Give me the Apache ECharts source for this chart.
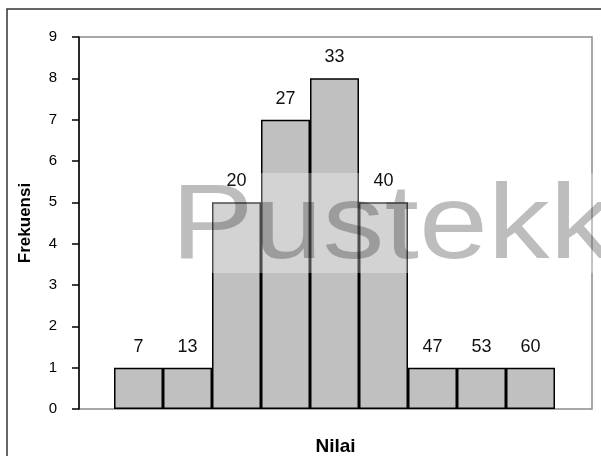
<!DOCTYPE html>
<html>
<head>
<meta charset="utf-8">
<script src="https://cdn.jsdelivr.net/npm/echarts@6/dist/echarts.min.js"></script>
<style>
html,body{margin:0;padding:0;background:#fff;}
#c{width:601px;height:456px;}
</style>
</head>
<body>
<div id="c"></div>
<script>
var categories = ['7', '13', '20', '27', '33', '40', '47', '53', '60'];
var frequencies = [1, 1, 5, 7, 8, 5, 1, 1, 1];
var yTicks = [0, 1, 2, 3, 4, 5, 6, 7, 8, 9];
var xTitle = 'Nilai';
var yTitle = 'Frekuensi';
var watermark = 'Pustekk';

var chart = echarts.init(document.getElementById('c'), null, {renderer: 'canvas'});
var FONT = '"Liberation Sans", Arial, sans-serif';
chart.setOption({
  animation: false,
  backgroundColor: '#ffffff',
  grid: [
    {left: 79, right: 9, top: 37, bottom: 47, show: true, borderColor: '#8c8c8c', borderWidth: 1.5,
     backgroundColor: 'transparent', outerBoundsMode: 'none', containLabel: false},
    {left: 114, right: 46, top: 37, bottom: 47, outerBoundsMode: 'none', containLabel: false}
  ],
  xAxis: [
    {gridIndex: 0, type: 'category', data: categories, axisLine: {show: false}, axisTick: {show: false}, axisLabel: {show: false},
     name: xTitle, nameLocation: 'middle', nameGap: 28,
     nameTextStyle: {fontFamily: FONT, fontWeight: 'bold', fontSize: 19, color: '#000'}},
    {gridIndex: 1, type: 'category', data: categories, show: false}
  ],
  yAxis: [
    {gridIndex: 0, type: 'value', min: yTicks[0], max: yTicks[yTicks.length - 1], interval: 1,
     axisLine: {show: true, lineStyle: {color: '#000', width: 1.5}},
     axisTick: {show: true, inside: false, length: 7, lineStyle: {color: '#000', width: 1.5}},
     axisLabel: {show: true, margin: 22, fontFamily: FONT, fontSize: 15, color: '#000'},
     splitLine: {show: false},
     name: yTitle, nameLocation: 'middle', nameGap: 45, nameRotate: 90,
     nameTextStyle: {fontFamily: '"Liberation Sans Narrow", "Liberation Sans", Arial, sans-serif', fontWeight: 'bold', fontSize: 17, color: '#000'}},
    {gridIndex: 1, type: 'value', min: yTicks[0], max: yTicks[yTicks.length - 1], show: false}
  ],
  series: [{
    type: 'bar',
    xAxisIndex: 1,
    yAxisIndex: 1,
    z: 2,
    data: frequencies,
    barWidth: '100%',
    barCategoryGap: 0,
    itemStyle: {color: '#c0c0c0', borderColor: '#000', borderWidth: 1.5},
    label: {show: false}
  }, {
    type: 'bar',
    xAxisIndex: 1,
    yAxisIndex: 1,
    z: 4,
    data: frequencies,
    barWidth: '100%',
    barGap: '-100%',
    barCategoryGap: 0,
    itemStyle: {color: 'rgba(0,0,0,0)', borderWidth: 0},
    label: {show: true, position: 'top', distance: 12, formatter: '{b}',
            fontFamily: FONT, fontSize: 18, color: '#111'}
  }],
  graphic: [
    {type: 'rect', z: 100, silent: true, shape: {x: 7, y: 9, width: 620, height: 470},
     style: {fill: 'none', stroke: '#333', lineWidth: 1.5}},
    {type: 'rect', z: 3, silent: true, shape: {x: 172, y: 173, width: 440, height: 100},
     style: {fill: 'rgba(255,255,255,0.3)'}},
    {type: 'text', z: 102, silent: true, x: 171, y: 229, scaleX: 1.18,
     style: {text: watermark, font: '105px "Liberation Sans", Arial, sans-serif',
             fill: 'rgba(0,0,0,0.26)', textAlign: 'left', textVerticalAlign: 'middle'}}
  ]
});
</script>
</body>
</html>
